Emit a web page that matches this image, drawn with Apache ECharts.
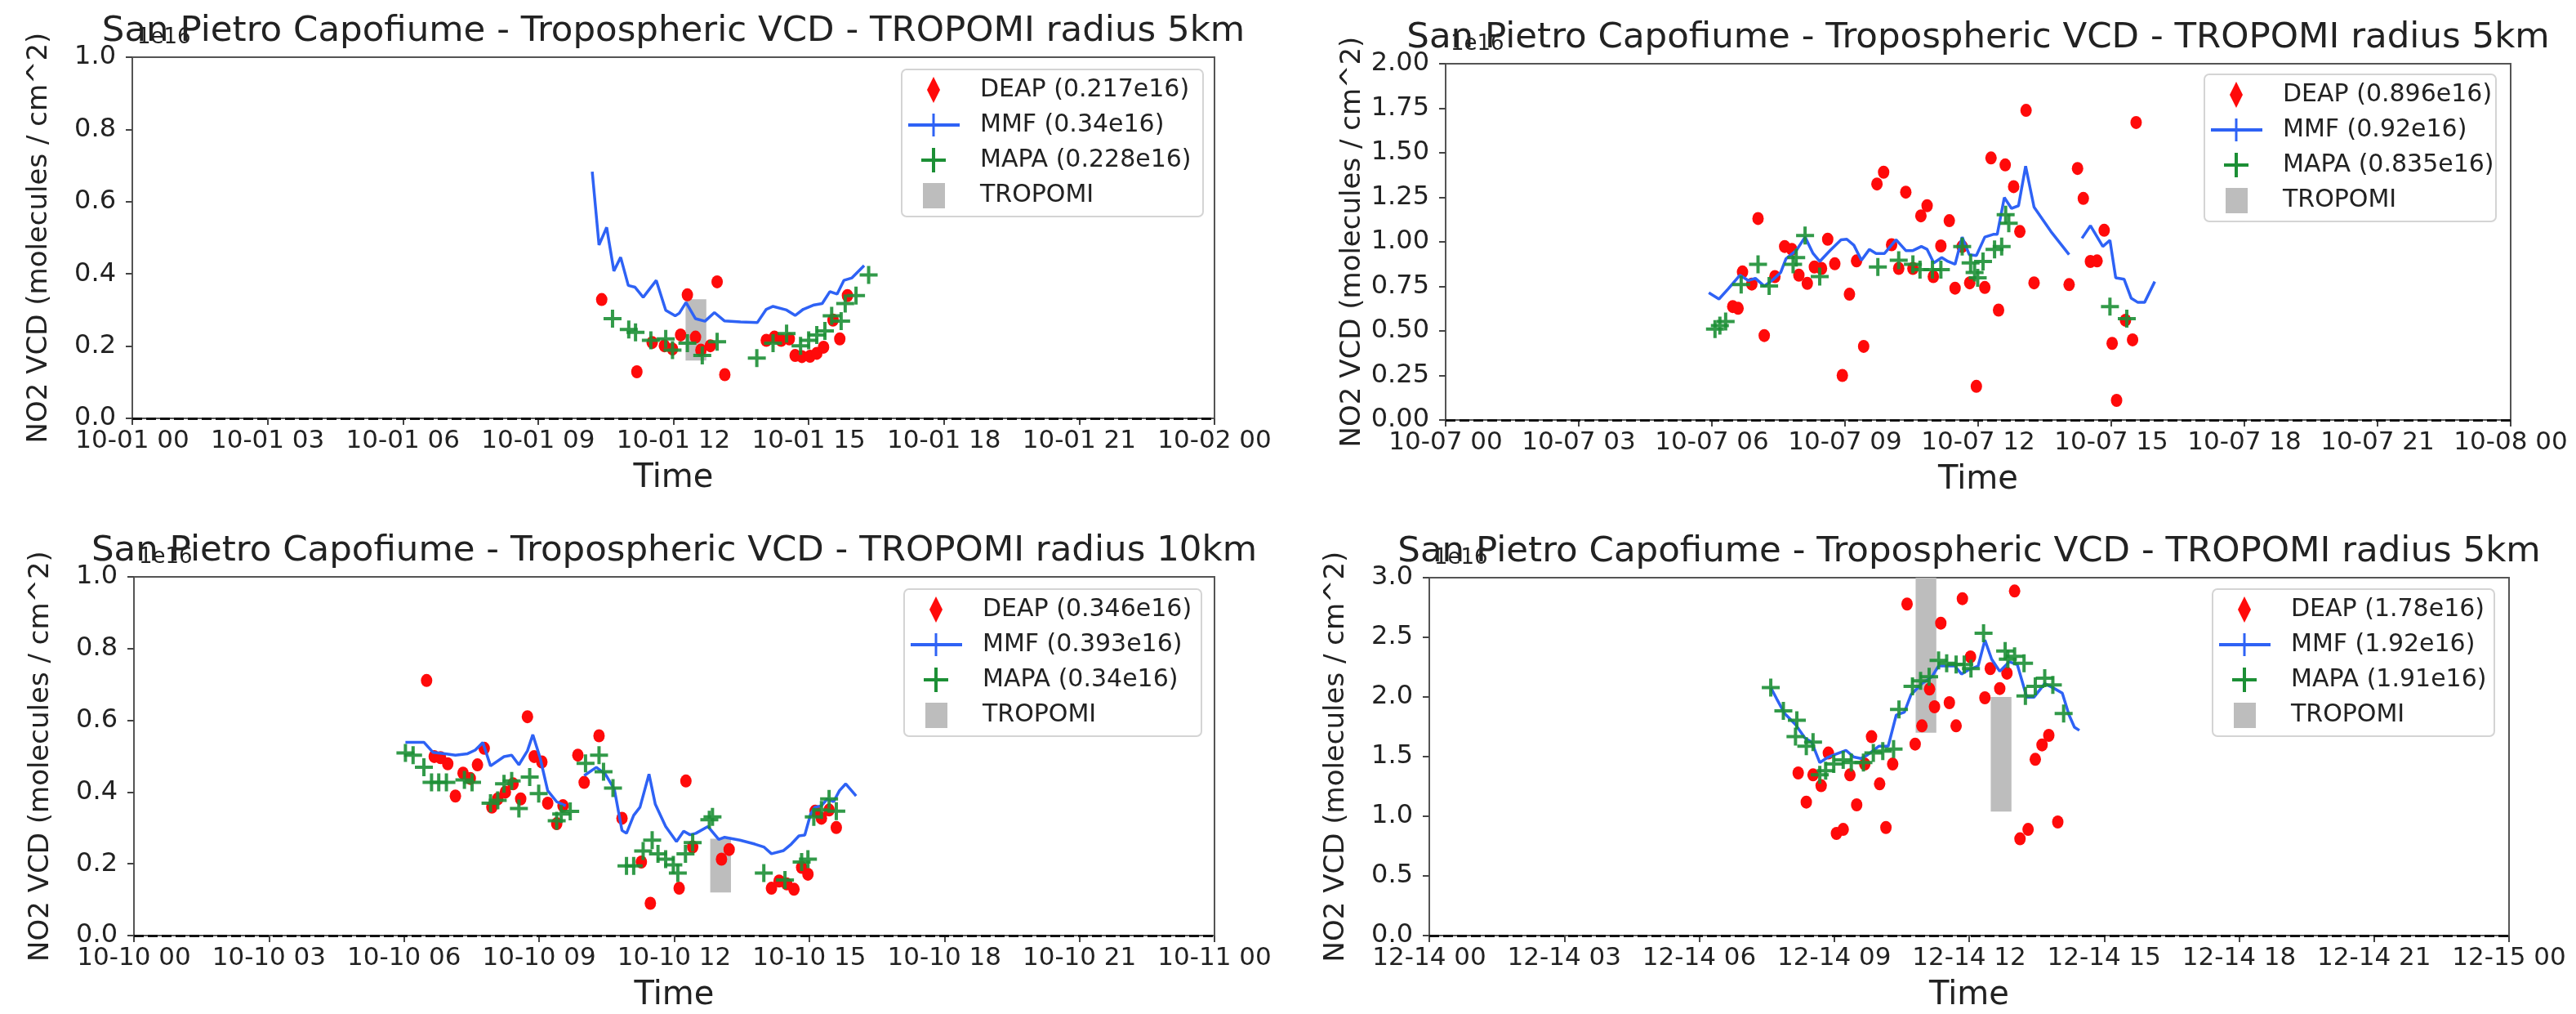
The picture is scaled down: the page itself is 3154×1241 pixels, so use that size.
<!DOCTYPE html>
<html>
<head>
<meta charset="utf-8">
<title>San Pietro Capofiume - Tropospheric VCD</title>
<script src="https://cdn.jsdelivr.net/npm/echarts@6/dist/echarts.min.js"></script>
<style>
  html, body { margin: 0; padding: 0; background: #fff; }
  #chart { width: 3154px; height: 1241px; }
</style>
</head>
<body>
<div id="chart"></div>
<script>
// x = hour of the day (0..24), y = NO2 VCD in units of 1e16 molecules / cm^2

const titles = [
  'San Pietro Capofiume - Tropospheric VCD - TROPOMI radius 5km',
  'San Pietro Capofiume - Tropospheric VCD - TROPOMI radius 5km',
  'San Pietro Capofiume - Tropospheric VCD - TROPOMI radius 10km',
  'San Pietro Capofiume - Tropospheric VCD - TROPOMI radius 5km'
];
const dayLabels = [['10-01', '10-02'], ['10-07', '10-08'], ['10-10', '10-11'], ['12-14', '12-15']];
const legendLabels = [
  ['DEAP (0.217e16)', 'MMF (0.34e16)', 'MAPA (0.228e16)', 'TROPOMI'],
  ['DEAP (0.896e16)', 'MMF (0.92e16)', 'MAPA (0.835e16)', 'TROPOMI'],
  ['DEAP (0.346e16)', 'MMF (0.393e16)', 'MAPA (0.34e16)', 'TROPOMI'],
  ['DEAP (1.78e16)', 'MMF (1.92e16)', 'MAPA (1.91e16)', 'TROPOMI']
];
const yMax = [1.0, 2.0, 1.0, 3.0];
const yStep = [0.2, 0.25, 0.2, 0.5];
const yDigits = [1, 2, 1, 1];

// ---- panel 1 : 10-01
const p1Deap = [[10.41,0.329],[11.19,0.129],[11.53,0.210],[11.80,0.201],[11.98,0.192],[12.16,0.231],[12.31,0.342],
  [12.49,0.225],[12.61,0.189],[12.82,0.201],[12.97,0.378],[13.14,0.121],[14.06,0.216],[14.24,0.225],[14.39,0.216],
  [14.57,0.220],[14.70,0.174],[14.85,0.171],[15.03,0.172],[15.18,0.180],[15.33,0.197],[15.54,0.272],[15.69,0.220],[15.86,0.340]];
const p1Mmf = [[10.20,0.683],[10.35,0.480],[10.52,0.529],[10.68,0.408],[10.83,0.446],[11.00,0.368],[11.15,0.363],
  [11.33,0.335],[11.62,0.382],[11.83,0.299],[12.04,0.284],[12.13,0.291],[12.28,0.321],[12.49,0.276],[12.70,0.269],
  [12.91,0.293],[13.13,0.270],[13.49,0.267],[13.86,0.265],[14.06,0.302],[14.21,0.310],[14.51,0.300],[14.70,0.285],
  [14.88,0.302],[15.12,0.314],[15.30,0.318],[15.47,0.351],[15.63,0.344],[15.78,0.382],[15.96,0.389],[16.23,0.423]];
const p1Mapa = [[10.65,0.276],[11.01,0.246],[11.16,0.238],[11.50,0.216],[11.83,0.220],[11.98,0.189],[12.31,0.208],
  [12.64,0.174],[12.97,0.212],[13.85,0.167],[14.21,0.208],[14.51,0.235],[14.82,0.201],[15.00,0.216],[15.18,0.231],
  [15.36,0.242],[15.51,0.284],[15.72,0.269],[15.81,0.318],[16.05,0.340],[16.33,0.397]];
const p1Tropomi = [[12.5, 0.16, 0.33]];

// ---- panel 2 : 10-07
const p2Deap = [[6.47,0.637],[6.59,0.627],[6.69,0.831],[6.90,0.763],[7.04,1.131],[7.18,0.474],[7.42,0.805],[7.64,0.974],
  [7.80,0.958],[7.96,0.813],[8.15,0.767],[8.31,0.859],[8.47,0.851],[8.61,1.015],[8.77,0.877],[8.94,0.250],[9.10,0.706],
  [9.26,0.893],[9.42,0.413],[9.72,1.325],[9.87,1.391],[10.05,0.984],[10.21,0.851],[10.37,1.279],[10.53,0.851],
  [10.71,1.146],[10.85,1.203],[10.99,0.805],[11.16,0.977],[11.35,1.119],[11.48,0.740],[11.64,0.974],[11.81,0.770],
  [11.96,0.189],[12.15,0.744],[12.29,1.471],[12.46,0.617],[12.61,1.432],[12.80,1.310],[12.94,1.058],[13.08,1.738],
  [13.26,0.770],[14.05,0.760],[14.24,1.412],[14.37,1.244],[14.53,0.890],[14.68,0.893],[14.84,1.065],[15.02,0.430],
  [15.12,0.110],[15.32,0.560],[15.48,0.450],[15.56,1.670]];
const p2Mmf = [[5.93,0.714],[6.16,0.679],[6.37,0.737],[6.63,0.813],[6.82,0.783],[6.98,0.795],[7.18,0.752],[7.37,0.786],
  [7.55,0.828],[7.67,0.905],[7.90,0.951],[8.10,1.027],[8.28,0.935],[8.43,0.890],[8.66,0.951],[8.91,1.012],[9.04,1.015],
  [9.20,0.981],[9.37,0.897],[9.55,0.958],[9.70,0.935],[9.89,0.935],[10.15,1.012],[10.37,0.951],[10.53,0.951],
  [10.72,0.974],[10.85,0.958],[11.00,0.882],[11.18,0.912],[11.32,0.890],[11.48,0.874],[11.64,1.027],[11.80,0.928],
  [11.96,0.923],[12.15,1.027],[12.34,1.042],[12.43,1.042],[12.59,1.249],[12.75,1.188],[12.91,1.203],[13.07,1.425],
  [13.26,1.195],[13.64,1.058],[14.05,0.928],[14.20,null],[14.34,1.020],[14.53,1.091],[14.81,0.974],[14.97,1.009],
  [15.10,0.798],[15.29,0.790],[15.45,0.683],[15.60,0.660],[15.75,0.660],[15.98,0.777]];
const p2Mapa = [[6.07,0.510],[6.18,0.530],[6.31,0.553],[6.66,0.760],[7.04,0.874],[7.29,0.752],[7.83,0.874],[7.90,0.912],
  [8.10,1.035],[8.43,0.805],[9.74,0.859],[10.21,0.897],[10.53,0.874],[10.69,0.844],[10.97,0.844],[11.16,0.844],
  [11.64,0.974],[11.83,0.882],[11.92,0.828],[11.99,0.798],[12.11,0.890],[12.37,0.958],[12.53,0.974],[12.62,1.152],
  [12.69,1.104],[14.97,0.637],[15.35,0.569]];
const p2Tropomi = [];

// ---- panel 3 : 10-10
const p3Deap = [[6.50,0.711],[6.67,0.499],[6.81,0.496],[6.97,0.479],[7.14,0.389],[7.31,0.453],[7.47,0.438],[7.63,0.476],
  [7.78,0.522],[7.95,0.358],[8.08,0.381],[8.25,0.400],[8.42,0.423],[8.59,0.381],[8.74,0.610],[8.89,0.499],[9.06,0.484],
  [9.19,0.369],[9.39,0.312],[9.53,0.362],[9.86,0.503],[10.00,0.427],[10.33,0.557],[10.84,0.327],[11.27,0.205],
  [11.47,0.090],[12.11,0.132],[12.26,0.431],[12.41,0.247],[13.05,0.213],[13.22,0.240],[14.16,0.132],[14.33,0.152],
  [14.50,0.144],[14.66,0.129],[14.83,0.190],[14.97,0.171],[15.13,0.347],[15.27,0.327],[15.44,0.350],[15.60,0.301]];
const p3Mmf = [[6.03,0.539],[6.44,0.539],[6.64,0.511],[6.91,0.507],[7.14,0.503],[7.41,0.507],[7.58,0.517],[7.75,0.538],
  [7.92,0.473],[8.22,0.499],[8.39,0.503],[8.55,0.476],[8.74,0.515],[8.86,0.560],[9.02,0.496],[9.19,0.404],[9.39,0.373],
  [9.59,0.362],[9.80,null],[10.00,0.446],[10.27,0.469],[10.47,0.450],[10.67,0.408],[10.84,0.293],[10.94,0.285],
  [11.10,0.335],[11.24,0.358],[11.44,0.450],[11.58,0.366],[11.81,0.304],[12.05,0.262],[12.21,0.291],[12.35,0.281],
  [12.48,0.285],[12.75,0.304],[12.99,0.268],[13.12,0.274],[13.46,0.266],[13.79,0.255],[13.99,0.247],[14.16,0.228],
  [14.43,0.237],[14.60,0.255],[14.77,0.278],[14.90,0.280],[15.03,0.339],[15.13,0.358],[15.27,0.362],[15.40,0.381],
  [15.54,0.373],[15.67,0.404],[15.81,0.423],[16.04,0.389]];
const p3Mapa = [[6.03,0.509],[6.20,0.503],[6.44,0.469],[6.61,0.427],[6.77,0.427],[6.94,0.427],[7.34,0.434],[7.51,0.427],
  [7.92,0.369],[8.08,0.377],[8.22,0.423],[8.39,0.431],[8.55,0.354],[8.79,0.442],[8.99,0.396],[9.39,0.320],[9.49,0.339],
  [9.69,0.346],[10.03,0.480],[10.33,0.503],[10.43,0.457],[10.64,0.411],[10.94,0.194],[11.10,0.194],[11.31,0.236],
  [11.51,0.266],[11.64,0.228],[11.81,0.213],[11.98,0.197],[12.08,0.174],[12.25,0.228],[12.41,0.259],[12.78,0.323],
  [12.85,0.331],[13.99,0.174],[14.46,0.155],[14.83,0.205],[14.97,0.213],[15.10,0.331],[15.27,0.350],[15.44,0.381],[15.60,0.347]];
const p3Tropomi = [[13.03, 0.12, 0.27]];

// ---- panel 4 : 12-14
const p4Deap = [[8.20,1.363],[8.38,1.119],[8.53,1.347],[8.71,1.256],[8.87,1.530],[9.05,0.856],[9.20,0.890],[9.35,1.347],
  [9.50,1.096],[9.68,1.438],[9.83,1.667],[10.01,1.272],[10.15,0.906],[10.30,1.438],[10.62,2.779],[10.80,1.605],
  [10.95,1.758],[11.12,2.066],[11.23,1.918],[11.37,2.619],[11.56,1.952],[11.71,1.758],[11.85,2.824],[12.03,2.336],
  [12.35,1.993],[12.47,2.238],[12.68,2.071],[12.84,2.199],[13.01,2.888],[13.13,0.811],[13.31,0.890],[13.47,1.477],
  [13.62,1.598],[13.77,1.678],[13.97,0.952]];
const p4Mmf = [[7.59,2.078],[7.72,1.986],[7.90,1.861],[8.14,1.769],[8.35,1.655],[8.50,1.621],[8.68,1.450],[8.87,1.496],
  [9.02,1.518],[9.26,1.553],[9.44,1.496],[9.59,1.484],[9.74,1.514],[9.99,1.587],[10.20,1.587],[10.38,1.849],[10.56,1.872],
  [10.71,2.021],[10.95,2.112],[11.17,2.169],[11.32,2.260],[11.50,2.260],[11.68,2.260],[11.83,2.192],[11.98,2.226],
  [12.20,2.260],[12.35,2.477],[12.50,2.317],[12.68,2.215],[12.89,2.295],[13.07,2.272],[13.28,1.998],[13.44,1.998],
  [13.68,2.112],[13.86,2.078],[14.07,2.032],[14.22,1.849],[14.34,1.747],[14.45,1.720]];
const p4Mapa = [[7.59,2.078],[7.87,1.884],[8.14,1.667],[8.17,1.804],[8.38,1.587],[8.53,1.621],[8.68,1.347],[8.81,1.381],
  [8.99,1.438],[9.20,1.473],[9.38,1.450],[9.65,1.450],[9.87,1.530],[10.08,1.546],[10.32,1.564],[10.44,1.895],
  [10.74,2.089],[10.92,2.135],[11.11,2.169],[11.32,2.306],[11.50,2.283],[11.71,2.272],[11.89,2.272],[12.04,2.238],
  [12.32,2.534],[12.80,2.386],[12.86,2.317],[13.01,2.340],[13.22,2.283],[13.25,2.009],[13.47,2.089],[13.68,2.158],
  [13.86,2.101],[14.10,1.861]];
const p4Tropomi = [[11.04, 1.70, 3.3], [12.71, 1.04, 2.0]];

const deapData = [p1Deap, p2Deap, p3Deap, p4Deap];
const mmfData = [p1Mmf, p2Mmf, p3Mmf, p4Mmf];
const mapaData = [p1Mapa, p2Mapa, p3Mapa, p4Mapa];
const tropomiData = [p1Tropomi, p2Tropomi, p3Tropomi, p4Tropomi];

// ---- layout / style
const FONT = 'DejaVu Sans';
const TEXT = '#222';
const RED = '#ff0a0a', BLUE = '#2e62f5', GREEN = '#1c8f35', GRAY = '#bdbdbd';
const TROPOMI_HALF_W = 0.23; // hours
const PLUS = 'path://M9,0H13V9H22V13H13V22H9V13H0V9H9Z';

const grids = [
  { left: 162, top: 70, width: 1325, height: 442 },
  { left: 1770, top: 78, width: 1304, height: 436 },
  { left: 164, top: 706, width: 1323, height: 439 },
  { left: 1750, top: 707, width: 1322, height: 438 }
];
const legendBoxes = [
  { x: 1104, y: 85, w: 369 },
  { x: 2699, y: 91, w: 357 },
  { x: 1107, y: 721, w: 364 },
  { x: 2709, y: 721, w: 345 }
];

const pad2 = n => String(n).padStart(2, '0');

function renderRange(params, api) {
  const h = api.value(0), lo = api.value(1), hi = api.value(2);
  const a = api.coord([h - TROPOMI_HALF_W, hi]);
  const b = api.coord([h + TROPOMI_HALF_W, lo]);
  const cs = params.coordSys;
  const shape = echarts.graphic.clipRectByRect(
    { x: a[0], y: a[1], width: b[0] - a[0], height: b[1] - a[1] },
    { x: cs.x, y: cs.y, width: cs.width, height: cs.height }
  );
  return shape && { type: 'rect', shape: shape, style: { fill: api.visual('color') } };
}

function legendGroup(i) {
  const box = legendBoxes[i];
  const rows = [25, 68, 111, 154];
  const labels = legendLabels[i];
  const children = [
    { type: 'rect', shape: { x: 0, y: 0, width: box.w, height: 180, r: 6 },
      style: { fill: 'rgba(255,255,255,0.85)', stroke: '#d4d4d4', lineWidth: 2 } },
    { type: 'polygon', shape: { points: [[39, rows[0] - 16], [47, rows[0]], [39, rows[0] + 16], [31, rows[0]]] },
      style: { fill: RED } },
    { type: 'rect', shape: { x: 8, y: rows[1] - 2, width: 63, height: 4 }, style: { fill: BLUE } },
    { type: 'rect', shape: { x: 37.5, y: rows[1] - 14, width: 3, height: 28 }, style: { fill: BLUE } },
    { type: 'rect', shape: { x: 24, y: rows[2] - 2, width: 30, height: 4 }, style: { fill: GREEN } },
    { type: 'rect', shape: { x: 37, y: rows[2] - 15, width: 4, height: 30 }, style: { fill: GREEN } },
    { type: 'rect', shape: { x: 26, y: rows[3] - 15, width: 27, height: 31 }, style: { fill: GRAY } }
  ];
  labels.forEach((t, k) => {
    children.push({ type: 'text', x: 96, y: rows[k],
      style: { text: t, fontFamily: FONT, fontSize: 30, fill: TEXT, verticalAlign: 'middle', align: 'left' } });
  });
  return { type: 'group', x: box.x, y: box.y, z: 100, children: children };
}

const graphics = [];
grids.forEach((g, i) => {
  graphics.push({ type: 'text', x: g.left + g.width / 2, y: g.top - 31, z: 90,
    style: { text: titles[i], fontFamily: FONT, fontSize: 43.5, fill: TEXT, align: 'center', verticalAlign: 'middle' } });
  graphics.push({ type: 'text', x: g.left + 6, y: g.top - 11, z: 80,
    style: { text: '1e16', fontFamily: FONT, fontSize: 26, fill: TEXT, align: 'left', verticalAlign: 'bottom' } });
  graphics.push(legendGroup(i));
});

const option = {
  animation: false,
  backgroundColor: '#fff',
  textStyle: { fontFamily: FONT },
  grid: grids.map(g => Object.assign({ show: true, borderColor: '#555', borderWidth: 2, backgroundColor: '#fff' }, g)),
  xAxis: grids.map((g, i) => ({
    type: 'value', gridIndex: i, min: 0, max: 24, interval: 3,
    name: 'Time', nameLocation: 'middle', nameGap: 54,
    nameTextStyle: { fontSize: 40, color: TEXT, fontFamily: FONT },
    axisLine: { show: false },
    axisTick: { show: true, inside: false, length: 8, lineStyle: { color: '#444', width: 2 } },
    splitLine: { show: false },
    axisLabel: { fontSize: 31, color: TEXT, margin: 12, showMinLabel: true, showMaxLabel: true,
      formatter: v => (v >= 24 ? dayLabels[i][1] + ' 00' : dayLabels[i][0] + ' ' + pad2(v)) }
  })),
  yAxis: grids.map((g, i) => ({
    type: 'value', gridIndex: i, min: 0, max: yMax[i], interval: yStep[i],
    name: 'NO2 VCD (molecules / cm^2)', nameLocation: 'middle', nameGap: 97, nameRotate: 90,
    nameTextStyle: { fontSize: 34, color: TEXT, fontFamily: FONT },
    axisLine: { show: false },
    axisTick: { show: true, inside: false, length: 8, lineStyle: { color: '#444', width: 2 } },
    splitLine: { show: false },
    axisLabel: { fontSize: 32, color: TEXT, margin: 20, formatter: v => v.toFixed(yDigits[i]) }
  })),
  graphic: graphics,
  series: []
};

grids.forEach((g, i) => {
  option.series.push({
    name: legendLabels[i][3], type: 'custom', xAxisIndex: i, yAxisIndex: i, z: 1,
    itemStyle: { color: GRAY }, renderItem: renderRange,
    encode: { x: 0, y: [1, 2] }, data: tropomiData[i]
  });
  option.series.push({
    name: legendLabels[i][0], type: 'scatter', xAxisIndex: i, yAxisIndex: i, z: 2,
    symbol: 'circle', symbolSize: [14, 16], itemStyle: { color: RED, opacity: 1 },
    data: deapData[i]
  });
  option.series.push({
    name: legendLabels[i][1], type: 'line', xAxisIndex: i, yAxisIndex: i, z: 3,
    showSymbol: false, connectNulls: false,
    lineStyle: { color: BLUE, width: 3.5 }, itemStyle: { color: BLUE },
    data: mmfData[i].map(d => [d[0], d[1] === null ? '-' : d[1]]),
    markLine: {
      silent: true, symbol: ['none', 'none'], label: { show: false },
      lineStyle: { color: '#111', type: [12, 5], width: 3 },
      data: [{ yAxis: 0 }]
    }
  });
  option.series.push({
    name: legendLabels[i][2], type: 'scatter', xAxisIndex: i, yAxisIndex: i, z: 4,
    symbol: PLUS, symbolSize: 22, itemStyle: { color: GREEN, opacity: 0.9 },
    data: mapaData[i]
  });
});

const chart = echarts.init(document.getElementById('chart'), null, { renderer: 'canvas' });
chart.setOption(option);
</script>
</body>
</html>
